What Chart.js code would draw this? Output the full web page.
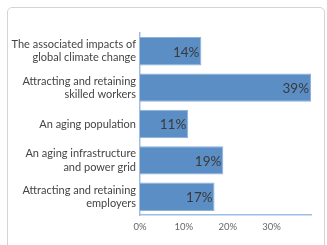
<!DOCTYPE html>
<html>
<head>
<meta charset="utf-8">
<script src="https://cdn.jsdelivr.net/npm/chart.js@4/dist/chart.umd.min.js"></script>
<style>
  html, body { margin: 0; padding: 0; background: #fff; }
  #card {
    position: absolute; left: 7px; top: 7px; width: 318px; height: 260px;
    border: 1px solid #d4d4d4; border-radius: 5px; box-sizing: border-box;
  }
  #wrap { position: absolute; left: 0; top: 0; width: 327px; height: 245px; }
</style>
</head>
<body>
<div id="card"></div>
<div id="wrap"><canvas id="chart"></canvas></div>
<script>
const categories = [
  ["The associated impacts of", "global climate change"],
  ["Attracting and retaining", "skilled workers"],
  ["An aging population"],
  ["An aging infrastructure", "and power grid"],
  ["Attracting and retaining", "employers"],
];
const values = [14, 39, 11, 19, 17];
const xTicks = [0, 10, 20, 30];

const barLabels = {
  id: "barLabels",
  afterDatasetsDraw(chart) {
    const ctx = chart.ctx;
    const meta = chart.getDatasetMeta(0);
    ctx.save();
    ctx.font = "13.5px Lato";
    ctx.fillStyle = "#3a3a3a";
    ctx.textAlign = "right";
    ctx.textBaseline = "middle";
    meta.data.forEach((bar, i) => {
      ctx.fillText(values[i] + "%", bar.x - 2, bar.y + 1);
    });
    ctx.restore();
  },
};

new Chart(document.getElementById("chart"), {
  type: "bar",
  data: {
    labels: categories,
    datasets: [
      {
        data: values,
        backgroundColor: "#5b8ec5",
        borderColor: "#8db1db",
        borderWidth: 1,
        barPercentage: 0.78,
        categoryPercentage: 1,
      },
    ],
  },
  plugins: [barLabels],
  options: {
    indexAxis: "y",
    responsive: true,
    maintainAspectRatio: false,
    animation: false,
    layout: {
      padding: { top: 33, right: 16, bottom: 10, left: 0 },
    },
    plugins: {
      legend: { display: false },
      tooltip: { enabled: false },
    },
    scales: {
      y: {
        grid: { display: false, drawTicks: false },
        border: { color: "#9dbde2", width: 1.5 },
        ticks: {
          color: "#444",
          font: { family: "Lato", size: 11 },
          padding: 4,
        },
        afterFit(scale) {
          scale.width = 140;
        },
      },
      x: {
        min: 0,
        max: 39,
        grid: { display: false, drawTicks: true, tickLength: 3, color: "#9dbde2" },
        border: { color: "#9dbde2", width: 1.5 },
        afterBuildTicks(scale) {
          scale.ticks = xTicks.map((v) => ({ value: v }));
        },
        ticks: {
          color: "#666",
          font: { family: "Lato", size: 9.5 },
          padding: 3,
          callback: (v) => v + "%",
        },
        afterFit(scale) {
          scale.height = 20;
        },
      },
    },
  },
});
</script>
</body>
</html>
